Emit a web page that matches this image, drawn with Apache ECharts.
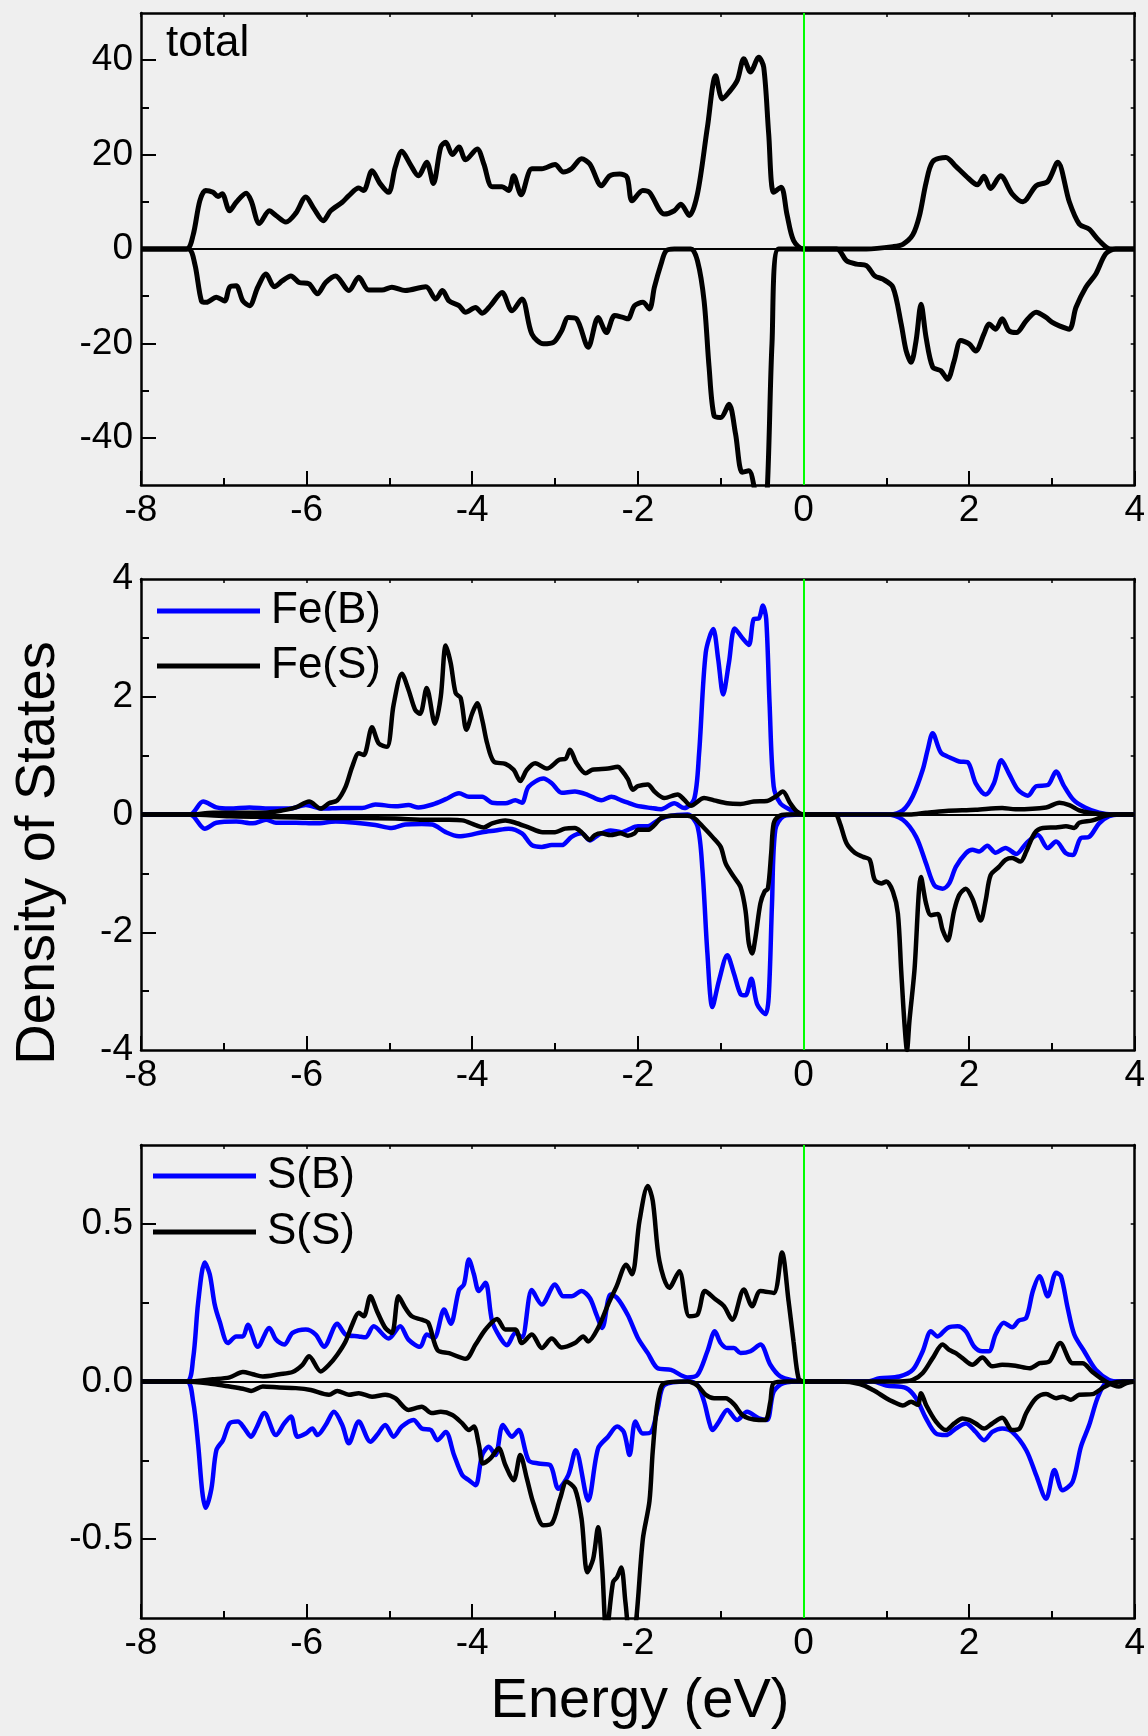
<!DOCTYPE html>
<html lang="en" style="height: 100%">
<head>
  <meta charset="utf-8">
  <title>dos-panels</title>
  <script src="https://cdn.jsdelivr.net/npm/echarts@6/dist/echarts.min.js"></script>
</head>
<body style="height: 100%; margin: 0; background: #efefef">
<div id="main" style="width: 1148px; height: 1736px"></div>

<script type="text/javascript">
  // [energy (eV), DOS] pairs, spin up (>0) and spin down (<0)
  var totalUp = [[-8,0],[-7.45,0],[-7.37,3],[-7.29,10.2],[-7.22,12.4],[-7.13,12],[-7.07,11.1],[-7.02,11.7],[-6.93,8.1],[-6.85,9.9],[-6.73,11.8],[-6.67,10.2],[-6.57,5.4],[-6.45,8.1],[-6.37,7.1],[-6.25,5.7],[-6.13,7.6],[-6.01,11],[-5.91,8.5],[-5.8,6],[-5.71,8.1],[-5.57,9.9],[-5.49,11.3],[-5.37,12.9],[-5.31,12.4],[-5.21,16.6],[-5.11,13.8],[-5.01,12],[-4.93,17.3],[-4.85,20.7],[-4.75,18],[-4.65,15.5],[-4.55,18.4],[-4.47,13.9],[-4.38,21.6],[-4.32,22.6],[-4.24,20],[-4.16,21.6],[-4.08,18.9],[-3.94,21.2],[-3.86,18],[-3.76,13.2],[-3.64,13.2],[-3.56,12.4],[-3.5,15.5],[-3.41,11.5],[-3.28,17],[-3.16,17],[-3.0,17.9],[-2.9,16.3],[-2.8,17],[-2.68,19.1],[-2.58,18],[-2.44,13.4],[-2.34,15.5],[-2.22,15.9],[-2.13,15.2],[-2.07,10.2],[-1.94,12.4],[-1.86,12.0],[-1.68,7.4],[-1.56,8.1],[-1.48,9.5],[-1.38,7.1],[-1.28,11.7],[-1.16,25.8],[-1.06,36.7],[-0.98,31.8],[-0.9,33.2],[-0.8,35.7],[-0.72,40.3],[-0.64,37.5],[-0.54,40.6],[-0.48,38.5],[-0.42,24.4],[-0.36,12],[-0.27,13.1],[-0.2,7.4],[-0.12,1.8],[0,0],[0.76,0],[1.08,0.5],[1.2,1],[1.32,3],[1.4,7],[1.48,14],[1.56,18.5],[1.72,19.4],[1.84,17.5],[1.96,15.5],[2.1,13.6],[2.18,15.4],[2.26,12.8],[2.38,15.5],[2.52,11.7],[2.65,10],[2.81,13.4],[2.95,14.3],[3.07,18.4],[3.21,10],[3.33,5.3],[3.45,4.2],[3.57,1.8],[3.71,0],[4,0]];
  var totalDown = [[-8,0],[-7.43,0],[-7.35,-3.2],[-7.27,-11],[-7.21,-11.3],[-7.09,-10.2],[-6.99,-11],[-6.93,-8.1],[-6.85,-7.8],[-6.77,-11],[-6.69,-12],[-6.59,-8.1],[-6.49,-5.3],[-6.39,-8],[-6.29,-6.7],[-6.19,-5.7],[-6.09,-7.1],[-5.97,-7.4],[-5.87,-9.5],[-5.77,-7.1],[-5.65,-5.7],[-5.49,-8.8],[-5.37,-6],[-5.25,-8.7],[-5.09,-8.7],[-4.97,-8.1],[-4.81,-8.8],[-4.56,-8],[-4.44,-10.6],[-4.36,-8.8],[-4.28,-11],[-4.16,-12],[-4.08,-13.4],[-3.96,-12.4],[-3.88,-13.6],[-3.78,-12],[-3.64,-9.2],[-3.52,-13.1],[-3.4,-10.6],[-3.28,-18],[-3.14,-20.1],[-3.02,-19.8],[-2.92,-17.3],[-2.84,-14.5],[-2.74,-14.8],[-2.6,-20.8],[-2.48,-14.5],[-2.38,-17.7],[-2.28,-14.1],[-2.18,-14.5],[-2.12,-14.8],[-2.04,-12],[-1.94,-11.3],[-1.86,-12.7],[-1.8,-8.1],[-1.72,-3.2],[-1.66,-0.4],[-1.56,0],[-1.36,0],[-1.28,-2.5],[-1.2,-11],[-1.14,-25],[-1.08,-35.3],[-1.0,-35.7],[-0.9,-32.9],[-0.82,-39.2],[-0.74,-47.3],[-0.66,-47],[-0.58,-52],[-0.5,-60],[-0.44,-52],[-0.38,-20],[-0.3,0],[0.4,0],[0.52,-2.5],[0.64,-3.2],[0.76,-3.5],[0.86,-5.7],[0.96,-6.4],[1.08,-8.1],[1.18,-15.9],[1.24,-21.6],[1.3,-24],[1.36,-19.4],[1.42,-11.7],[1.48,-18.7],[1.56,-25],[1.66,-25.8],[1.74,-27.6],[1.82,-23.7],[1.9,-19.4],[2.0,-20.1],[2.08,-21.6],[2.18,-18],[2.24,-15.9],[2.32,-17],[2.4,-14.8],[2.48,-17.3],[2.57,-17.7],[2.69,-15.2],[2.81,-13.4],[2.93,-14.5],[3.0,-15.5],[3.09,-16.3],[3.21,-17],[3.29,-12.4],[3.41,-8.1],[3.53,-5.3],[3.65,-1],[3.77,0],[4,0]];

  var feBUp = [[-8,0],[-7.41,0],[-7.25,0.22],[-7.09,0.12],[-6.93,0.1],[-6.69,0.12],[-6.45,0.1],[-6.21,0.1],[-6.01,0.16],[-5.81,0.1],[-5.57,0.11],[-5.33,0.11],[-5.17,0.17],[-4.93,0.14],[-4.77,0.16],[-4.65,0.12],[-4.48,0.17],[-4.32,0.26],[-4.16,0.36],[-4.04,0.3],[-3.88,0.3],[-3.76,0.2],[-3.6,0.19],[-3.48,0.24],[-3.4,0.2],[-3.32,0.47],[-3.14,0.61],[-3.04,0.53],[-2.92,0.37],[-2.76,0.39],[-2.6,0.33],[-2.44,0.24],[-2.32,0.3],[-2.2,0.24],[-2.12,0.2],[-2.02,0.15],[-1.84,0.11],[-1.72,0.09],[-1.56,0.19],[-1.44,0.11],[-1.32,0.26],[-1.26,1.05],[-1.18,2.75],[-1.09,3.15],[-1.03,2.64],[-0.97,2.04],[-0.9,2.58],[-0.83,3.16],[-0.74,3.0],[-0.66,2.88],[-0.6,3.32],[-0.54,3.33],[-0.49,3.55],[-0.45,3.32],[-0.41,1.9],[-0.36,0.48],[-0.28,0.19],[-0.16,0.08],[-0.04,0],[1.04,0],[1.2,0.07],[1.32,0.31],[1.44,0.76],[1.5,1.1],[1.56,1.38],[1.66,1.05],[1.78,0.96],[1.88,0.9],[1.98,0.89],[2.08,0.53],[2.2,0.34],[2.3,0.53],[2.39,0.92],[2.48,0.7],[2.59,0.42],[2.71,0.32],[2.81,0.48],[2.95,0.5],[3.05,0.73],[3.14,0.5],[3.26,0.25],[3.4,0.12],[3.57,0.03],[3.73,0],[4,0]];
  var feBDown = [[-8,0],[-7.41,0],[-7.23,-0.24],[-7.09,-0.14],[-6.85,-0.12],[-6.65,-0.15],[-6.49,-0.09],[-6.37,-0.14],[-6.13,-0.14],[-5.89,-0.15],[-5.65,-0.12],[-5.41,-0.14],[-5.17,-0.18],[-4.97,-0.23],[-4.81,-0.17],[-4.61,-0.16],[-4.48,-0.17],[-4.32,-0.3],[-4.16,-0.37],[-4.04,-0.35],[-3.88,-0.3],[-3.72,-0.27],[-3.56,-0.24],[-3.4,-0.32],[-3.28,-0.52],[-3.16,-0.55],[-3.04,-0.52],[-2.92,-0.52],[-2.8,-0.38],[-2.68,-0.32],[-2.58,-0.44],[-2.48,-0.35],[-2.33,-0.27],[-2.2,-0.3],[-2.12,-0.26],[-2.0,-0.2],[-1.88,-0.2],[-1.76,-0.1],[-1.64,-0.03],[-1.4,0],[-1.28,-0.2],[-1.22,-0.94],[-1.16,-2.36],[-1.1,-3.27],[-1.02,-2.82],[-0.92,-2.39],[-0.84,-2.7],[-0.76,-3.05],[-0.7,-3.07],[-0.63,-2.79],[-0.56,-3.22],[-0.46,-3.39],[-0.42,-3.1],[-0.38,-1.51],[-0.34,-0.26],[-0.24,-0.03],[-0.04,0],[1.0,0],[1.2,-0.09],[1.36,-0.38],[1.48,-0.83],[1.58,-1.2],[1.68,-1.26],[1.76,-1.17],[1.84,-0.89],[1.96,-0.66],[2.04,-0.6],[2.12,-0.63],[2.22,-0.53],[2.32,-0.65],[2.44,-0.57],[2.57,-0.67],[2.69,-0.49],[2.83,-0.35],[2.95,-0.57],[3.05,-0.46],[3.17,-0.66],[3.25,-0.69],[3.35,-0.4],[3.45,-0.38],[3.57,-0.15],[3.69,-0.03],[3.81,0],[4,0]];
  var feSUp = [[-8,0],[-7.41,0],[-7.13,0.03],[-6.85,0.03],[-6.53,0.03],[-6.29,0.07],[-6.13,0.12],[-5.97,0.22],[-5.83,0.1],[-5.73,0.19],[-5.63,0.24],[-5.53,0.47],[-5.45,0.81],[-5.37,1.04],[-5.31,1.01],[-5.21,1.48],[-5.13,1.21],[-5.03,1.15],[-4.95,1.86],[-4.85,2.39],[-4.77,2.12],[-4.69,1.78],[-4.63,1.71],[-4.55,2.15],[-4.45,1.54],[-4.38,2.0],[-4.32,2.87],[-4.26,2.57],[-4.2,2.06],[-4.14,1.98],[-4.07,1.44],[-4.0,1.72],[-3.94,1.89],[-3.88,1.61],[-3.82,1.21],[-3.74,0.9],[-3.6,0.86],[-3.5,0.76],[-3.42,0.57],[-3.34,0.76],[-3.24,0.87],[-3.1,0.78],[-2.95,0.93],[-2.87,0.95],[-2.82,1.1],[-2.74,0.87],[-2.63,0.7],[-2.55,0.76],[-2.36,0.78],[-2.24,0.81],[-2.2,0.76],[-2.12,0.6],[-2.06,0.42],[-2.0,0.48],[-1.88,0.51],[-1.8,0.39],[-1.68,0.28],[-1.52,0.34],[-1.44,0.25],[-1.36,0.15],[-1.2,0.28],[-1.08,0.24],[-0.92,0.19],[-0.76,0.18],[-0.6,0.22],[-0.44,0.23],[-0.33,0.31],[-0.25,0.39],[-0.16,0.19],[-0.08,0.05],[0,0],[1.28,0],[1.48,0.03],[1.72,0.06],[2.08,0.08],[2.4,0.11],[2.56,0.09],[2.93,0.12],[3.09,0.2],[3.21,0.16],[3.33,0.07],[3.49,0.02],[3.69,0],[4,0]];
  var feSDown = [[-8,0],[-7.41,0],[-6.93,-0.03],[-6.53,-0.04],[-6.13,-0.05],[-5.73,-0.06],[-5.33,-0.06],[-4.93,-0.07],[-4.53,-0.09],[-4.28,-0.09],[-4.12,-0.1],[-3.96,-0.18],[-3.86,-0.22],[-3.76,-0.15],[-3.6,-0.1],[-3.48,-0.14],[-3.32,-0.22],[-3.15,-0.3],[-3.0,-0.3],[-2.88,-0.24],[-2.76,-0.23],[-2.68,-0.3],[-2.58,-0.43],[-2.52,-0.35],[-2.44,-0.32],[-2.33,-0.35],[-2.21,-0.32],[-2.12,-0.36],[-2.04,-0.32],[-2.0,-0.26],[-1.88,-0.26],[-1.8,-0.18],[-1.72,-0.06],[-1.6,-0.02],[-1.4,-0.02],[-1.32,-0.06],[-1.22,-0.2],[-1.1,-0.38],[-1.0,-0.55],[-0.94,-0.83],[-0.84,-1.06],[-0.76,-1.23],[-0.7,-1.63],[-0.66,-2.19],[-0.62,-2.36],[-0.58,-2.09],[-0.52,-1.51],[-0.47,-1.31],[-0.43,-1.26],[-0.39,-0.66],[-0.36,-0.15],[-0.3,-0.03],[-0.2,0],[0.38,0],[0.44,-0.15],[0.52,-0.49],[0.62,-0.65],[0.72,-0.72],[0.8,-0.77],[0.86,-1.11],[0.94,-1.17],[1.0,-1.14],[1.08,-1.31],[1.14,-1.68],[1.18,-2.65],[1.22,-3.56],[1.25,-4.0],[1.28,-3.5],[1.34,-2.65],[1.42,-1.06],[1.48,-1.51],[1.54,-1.71],[1.62,-1.69],[1.68,-1.96],[1.74,-2.14],[1.82,-1.63],[1.88,-1.37],[1.96,-1.26],[2.04,-1.43],[2.14,-1.8],[2.2,-1.46],[2.26,-1.03],[2.36,-0.89],[2.44,-0.77],[2.52,-0.74],[2.62,-0.8],[2.69,-0.63],[2.79,-0.32],[2.89,-0.23],[3.05,-0.22],[3.17,-0.2],[3.27,-0.23],[3.33,-0.14],[3.49,-0.1],[3.65,-0.02],[3.77,0],[4,0]];

  var sBUp = [[-8,0],[-7.45,0],[-7.37,0.074],[-7.31,0.25],[-7.23,0.377],[-7.17,0.34],[-7.11,0.244],[-7.05,0.19],[-6.95,0.122],[-6.85,0.143],[-6.77,0.143],[-6.71,0.18],[-6.59,0.11],[-6.45,0.17],[-6.37,0.133],[-6.27,0.117],[-6.17,0.154],[-6.01,0.165],[-5.89,0.149],[-5.79,0.11],[-5.63,0.183],[-5.53,0.149],[-5.37,0.143],[-5.29,0.14],[-5.19,0.175],[-5.01,0.136],[-4.87,0.175],[-4.77,0.133],[-4.63,0.11],[-4.55,0.149],[-4.46,0.138],[-4.34,0.228],[-4.26,0.183],[-4.16,0.29],[-4.1,0.308],[-4.04,0.387],[-3.98,0.34],[-3.92,0.287],[-3.84,0.313],[-3.76,0.191],[-3.66,0.138],[-3.58,0.115],[-3.48,0.154],[-3.4,0.14],[-3.28,0.29],[-3.16,0.244],[-3.0,0.308],[-2.9,0.27],[-2.8,0.27],[-2.68,0.287],[-2.58,0.265],[-2.5,0.212],[-2.43,0.17],[-2.33,0.276],[-2.25,0.265],[-2.12,0.21],[-2.0,0.138],[-1.88,0.09],[-1.76,0.042],[-1.6,0.037],[-1.4,0.013],[-1.28,0.021],[-1.16,0.096],[-1.07,0.159],[-1.0,0.122],[-0.92,0.106],[-0.84,0.106],[-0.76,0.09],[-0.64,0.096],[-0.52,0.117],[-0.4,0.053],[-0.28,0.016],[-0.12,0.003],[0,0],[0.76,0],[0.92,0.01],[1.16,0.016],[1.32,0.037],[1.44,0.096],[1.54,0.159],[1.62,0.143],[1.74,0.17],[1.86,0.175],[1.96,0.159],[2.06,0.111],[2.16,0.096],[2.24,0.096],[2.32,0.149],[2.42,0.186],[2.52,0.172],[2.6,0.193],[2.69,0.202],[2.77,0.287],[2.85,0.334],[2.95,0.27],[3.05,0.345],[3.11,0.334],[3.19,0.234],[3.27,0.149],[3.39,0.096],[3.53,0.037],[3.69,0.005],[3.81,0],[4,0]];
  var sBDown = [[-8,0],[-7.45,0],[-7.37,-0.064],[-7.31,-0.2],[-7.26,-0.35],[-7.22,-0.4],[-7.15,-0.34],[-7.09,-0.218],[-7.01,-0.186],[-6.93,-0.133],[-6.83,-0.127],[-6.75,-0.149],[-6.67,-0.175],[-6.61,-0.149],[-6.51,-0.1],[-6.37,-0.17],[-6.27,-0.133],[-6.19,-0.111],[-6.11,-0.175],[-6.01,-0.165],[-5.93,-0.149],[-5.87,-0.17],[-5.77,-0.138],[-5.67,-0.096],[-5.57,-0.138],[-5.49,-0.196],[-5.37,-0.127],[-5.23,-0.191],[-5.15,-0.17],[-5.05,-0.138],[-4.95,-0.175],[-4.85,-0.143],[-4.71,-0.122],[-4.61,-0.149],[-4.5,-0.154],[-4.42,-0.186],[-4.32,-0.16],[-4.22,-0.233],[-4.12,-0.297],[-4.04,-0.313],[-3.96,-0.329],[-3.88,-0.233],[-3.8,-0.207],[-3.72,-0.233],[-3.63,-0.138],[-3.52,-0.175],[-3.44,-0.154],[-3.32,-0.25],[-3.2,-0.26],[-3.06,-0.265],[-2.96,-0.34],[-2.84,-0.297],[-2.75,-0.218],[-2.6,-0.377],[-2.48,-0.212],[-2.36,-0.175],[-2.25,-0.143],[-2.17,-0.16],[-2.1,-0.233],[-2.03,-0.127],[-1.94,-0.165],[-1.84,-0.16],[-1.76,-0.085],[-1.68,-0.011],[-1.4,0],[-1.28,-0.011],[-1.2,-0.064],[-1.14,-0.127],[-1.1,-0.154],[-1.02,-0.127],[-0.92,-0.09],[-0.8,-0.122],[-0.68,-0.096],[-0.54,-0.117],[-0.44,-0.122],[-0.36,-0.032],[-0.24,-0.005],[0,0],[0.84,0],[1.0,-0.013],[1.24,-0.021],[1.36,-0.053],[1.48,-0.117],[1.6,-0.165],[1.72,-0.17],[1.84,-0.149],[1.96,-0.133],[2.08,-0.16],[2.18,-0.186],[2.28,-0.16],[2.4,-0.149],[2.52,-0.16],[2.69,-0.218],[2.81,-0.297],[2.93,-0.372],[3.03,-0.281],[3.13,-0.345],[3.25,-0.318],[3.35,-0.207],[3.45,-0.138],[3.55,-0.053],[3.65,-0.005],[3.77,0],[4,0]];
  var sSUp = [[-8,0],[-7.45,0],[-7.13,0.007],[-6.93,0.013],[-6.77,0.03],[-6.65,0.023],[-6.53,0.016],[-6.33,0.023],[-6.17,0.03],[-6.05,0.053],[-5.97,0.08],[-5.83,0.032],[-5.73,0.053],[-5.63,0.085],[-5.53,0.127],[-5.45,0.18],[-5.37,0.218],[-5.31,0.207],[-5.23,0.27],[-5.15,0.223],[-5.05,0.17],[-4.97,0.154],[-4.89,0.27],[-4.81,0.234],[-4.73,0.207],[-4.61,0.196],[-4.53,0.186],[-4.42,0.1],[-4.28,0.09],[-4.08,0.072],[-3.96,0.117],[-3.84,0.165],[-3.7,0.198],[-3.6,0.165],[-3.48,0.165],[-3.4,0.122],[-3.28,0.149],[-3.16,0.106],[-3.04,0.136],[-2.92,0.108],[-2.76,0.122],[-2.66,0.143],[-2.6,0.127],[-2.48,0.17],[-2.36,0.244],[-2.26,0.3],[-2.14,0.37],[-2.07,0.34],[-1.98,0.51],[-1.88,0.62],[-1.82,0.573],[-1.74,0.382],[-1.62,0.297],[-1.5,0.35],[-1.38,0.207],[-1.28,0.212],[-1.19,0.287],[-1.06,0.26],[-0.96,0.239],[-0.86,0.196],[-0.72,0.292],[-0.62,0.239],[-0.52,0.287],[-0.36,0.281],[-0.26,0.409],[-0.18,0.255],[-0.12,0.127],[-0.06,0.01],[0,0],[1.16,0],[1.32,0.005],[1.44,0.027],[1.56,0.074],[1.68,0.117],[1.76,0.1],[1.84,0.09],[1.92,0.074],[2.04,0.053],[2.16,0.076],[2.28,0.048],[2.4,0.053],[2.56,0.05],[2.73,0.042],[2.85,0.058],[2.97,0.064],[3.1,0.122],[3.25,0.058],[3.37,0.058],[3.49,0.03],[3.65,0],[3.81,-0.016],[3.9,-0.005],[4,0]];
  var sSDown = [[-8,0],[-7.45,0],[-7.13,-0.008],[-6.93,-0.016],[-6.77,-0.023],[-6.67,-0.03],[-6.53,-0.016],[-6.33,-0.019],[-6.13,-0.021],[-5.95,-0.027],[-5.73,-0.042],[-5.63,-0.03],[-5.49,-0.042],[-5.37,-0.037],[-5.21,-0.048],[-5.05,-0.042],[-4.93,-0.053],[-4.77,-0.09],[-4.61,-0.08],[-4.49,-0.1],[-4.38,-0.096],[-4.24,-0.106],[-4.12,-0.133],[-4.04,-0.154],[-3.98,-0.143],[-3.92,-0.2],[-3.87,-0.26],[-3.78,-0.244],[-3.68,-0.212],[-3.6,-0.265],[-3.5,-0.313],[-3.42,-0.233],[-3.34,-0.308],[-3.26,-0.387],[-3.14,-0.456],[-3.04,-0.451],[-2.94,-0.372],[-2.86,-0.318],[-2.76,-0.34],[-2.68,-0.435],[-2.61,-0.605],[-2.54,-0.563],[-2.48,-0.462],[-2.43,-0.595],[-2.38,-0.8],[-2.3,-0.637],[-2.25,-0.62],[-2.2,-0.59],[-2.15,-0.7],[-2.09,-0.82],[-2.03,-0.78],[-1.94,-0.5],[-1.86,-0.38],[-1.82,-0.22],[-1.76,-0.064],[-1.68,-0.005],[-1.4,0],[-1.28,-0.013],[-1.18,-0.042],[-1.08,-0.053],[-0.94,-0.053],[-0.84,-0.072],[-0.74,-0.106],[-0.66,-0.117],[-0.54,-0.122],[-0.46,-0.122],[-0.4,-0.064],[-0.36,-0.005],[-0.2,0],[0.44,0],[0.68,-0.008],[0.84,-0.027],[1.0,-0.053],[1.08,-0.064],[1.2,-0.076],[1.3,-0.064],[1.38,-0.074],[1.42,-0.037],[1.48,-0.074],[1.6,-0.127],[1.72,-0.154],[1.82,-0.133],[1.92,-0.117],[2.0,-0.122],[2.08,-0.133],[2.18,-0.149],[2.28,-0.133],[2.4,-0.115],[2.52,-0.154],[2.61,-0.149],[2.69,-0.1],[2.81,-0.053],[2.93,-0.04],[3.05,-0.053],[3.13,-0.048],[3.23,-0.058],[3.33,-0.042],[3.49,-0.04],[3.61,-0.021],[3.73,-0.005],[3.85,0],[4,0]];

  // axes
  var energyRange = [-8, 4];
  var yRanges = [[-50, 50], [-4, 4], [-0.75, 0.75]];
  var yLabelValues = [[-40, -20, 0, 20, 40], [-4, -2, 0, 2, 4], [-0.5, 0, 0.5]];
  var yMajorTicks = [[-40, -20, 0, 20, 40], [-2, 0, 2], [-0.5, 0, 0.5]];
  var yMinorTicks = [[-30, -10, 10, 30], [-3, -1, 1, 3], [-0.25, 0.25]];
  var legendNames = [['Fe(B)', 'Fe(S)'], ['S(B)', 'S(S)']];

  var FONT = '"Liberation Sans", Arial, Helvetica, sans-serif';
  var BLUE = '#0000ff';
  var BLACK = '#000000';
  var gridTops = [13, 579, 1145];
  var gridHeights = [472, 471, 473];

  var grids = [], xAxes = [], yAxes = [], series = [];

  for (var i = 0; i < 3; i++) {
    grids.push({left: 141, right: 9, top: gridTops[i], height: gridHeights[i]});

    // bottom x axis with labels
    xAxes.push({
      gridIndex: i, type: 'value', position: 'bottom',
      min: energyRange[0], max: energyRange[1], interval: 2,
      axisLine: {onZero: false, lineStyle: {color: BLACK, width: 2.5}},
      axisTick: {inside: true, length: 14, lineStyle: {color: BLACK, width: 2}},
      minorTick: {show: true, splitNumber: 2, length: 7, lineStyle: {color: BLACK, width: 2}},
      axisLabel: {color: BLACK, fontSize: 37, fontFamily: FONT, margin: 7},
      splitLine: {show: false}, minorSplitLine: {show: false}
    });
    // top frame
    xAxes.push({
      gridIndex: i, type: 'value', position: 'top',
      min: energyRange[0], max: energyRange[1], interval: 1,
      axisLine: {onZero: false, lineStyle: {color: BLACK, width: 2.5}},
      axisTick: {inside: true, length: 4, lineStyle: {color: BLACK, width: 1.5}},
      axisLabel: {show: false},
      splitLine: {show: false}
    });

    var fmt = i === 2 ? function (v) { return v.toFixed(1); } : function (v) { return String(v); };
    // left axis: labels + long ticks
    yAxes.push({
      gridIndex: i, type: 'value', position: 'left',
      min: yRanges[i][0], max: yRanges[i][1],
      axisLine: {onZero: false, lineStyle: {color: BLACK, width: 2.5}},
      axisTick: {inside: true, length: 15, customValues: yMajorTicks[i], lineStyle: {color: BLACK, width: 2}},
      axisLabel: {customValues: yLabelValues[i], formatter: fmt, color: BLACK, fontSize: 37, fontFamily: FONT, margin: 8,
        showMinLabel: true, showMaxLabel: true},
      splitLine: {show: false}
    });
    // left axis: short ticks only
    yAxes.push({
      gridIndex: i, type: 'value', position: 'left',
      min: yRanges[i][0], max: yRanges[i][1],
      axisLine: {show: false, onZero: false},
      axisTick: {inside: true, length: 8, customValues: yMinorTicks[i], lineStyle: {color: BLACK, width: 2}},
      axisLabel: {show: false},
      splitLine: {show: false}
    });
    // right frame
    yAxes.push({
      gridIndex: i, type: 'value', position: 'right',
      min: yRanges[i][0], max: yRanges[i][1],
      axisLine: {onZero: false, lineStyle: {color: BLACK, width: 2.5}},
      axisTick: {inside: true, length: 4, customValues: yMajorTicks[i].concat(yMinorTicks[i]), lineStyle: {color: BLACK, width: 1.5}},
      axisLabel: {show: false},
      splitLine: {show: false}
    });
  }

  function curve(name, data, color, panel, width) {
    return {
      name: name, type: 'line', data: data,
      xAxisIndex: panel * 2, yAxisIndex: panel * 3,
      symbol: 'none', smooth: 0.3, clip: true, silent: true,
      lineStyle: {color: color, width: width},
      itemStyle: {color: color},
      z: 3
    };
  }

  // zero line and Fermi level
  for (var p = 0; p < 3; p++) {
    series.push({
      name: 'ref' + p, type: 'line', data: [],
      xAxisIndex: p * 2, yAxisIndex: p * 3,
      silent: true, z: 4,
      markLine: {
        silent: true, symbol: 'none', animation: false,
        label: {show: false},
        data: [
          {yAxis: 0, lineStyle: {color: BLACK, width: 2, type: 'solid'}},
          {xAxis: 0, lineStyle: {color: '#00ff00', width: 2, type: 'solid'}}
        ]
      }
    });
  }

  series.push(curve('total', totalUp, BLACK, 0, 5));
  series.push(curve('total', totalDown, BLACK, 0, 5));
  series.push(curve('Fe(B)', feBUp, BLUE, 1, 4.5));
  series.push(curve('Fe(B)', feBDown, BLUE, 1, 4.5));
  series.push(curve('Fe(S)', feSUp, BLACK, 1, 4.5));
  series.push(curve('Fe(S)', feSDown, BLACK, 1, 4.5));
  series.push(curve('S(B)', sBUp, BLUE, 2, 4.5));
  series.push(curve('S(B)', sBDown, BLUE, 2, 4.5));
  series.push(curve('S(S)', sSUp, BLACK, 2, 4.5));
  series.push(curve('S(S)', sSDown, BLACK, 2, 4.5));

  var legendBase = {
    orient: 'vertical', padding: 0, itemWidth: 103, itemHeight: 5, icon: 'rect',
    selectedMode: false,
    textStyle: {color: BLACK, fontSize: 44, fontFamily: FONT, padding: [0, 0, 0, 6]}
  };

  var mychart = echarts.init(document.getElementById('main'), null, {renderer: 'canvas'});
  mychart.setOption({
    backgroundColor: '#efefef',
    animation: false,
    grid: grids,
    xAxis: xAxes,
    yAxis: yAxes,
    legend: [
      echarts.util.extend({data: legendNames[0], left: 157, top: 589, itemGap: 11}, legendBase),
      echarts.util.extend({data: legendNames[1], left: 153, top: 1154, itemGap: 12}, legendBase)
    ],
    graphic: [
      {type: 'text', x: 166, y: 44, style: {text: 'total', font: '44px ' + FONT, fill: BLACK, align: 'left', verticalAlign: 'middle'}},
      {type: 'text', x: 39, y: 853, rotation: Math.PI / 2,
        style: {text: 'Density of States', font: '56px ' + FONT, fill: BLACK, align: 'center', verticalAlign: 'middle'}},
      {type: 'text', x: 640, y: 1702, style: {text: 'Energy (eV)', font: '56px ' + FONT, fill: BLACK, align: 'center', verticalAlign: 'middle'}}
    ],
    series: series
  });

  window.addEventListener('resize', mychart.resize);
</script>
</body>
</html>
